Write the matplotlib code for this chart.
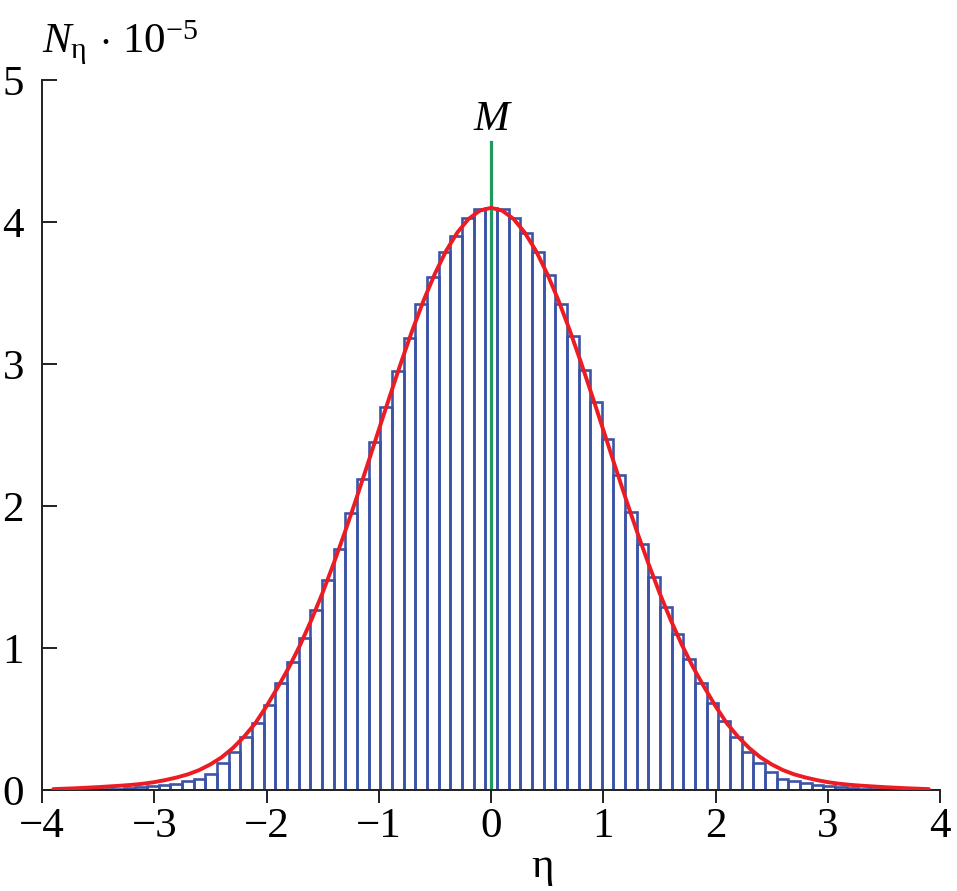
import numpy as np
import matplotlib
matplotlib.use("Agg")
import matplotlib.pyplot as plt

plt.rcParams['font.family'] = ['Liberation Serif', 'DejaVu Serif']
plt.rcParams['mathtext.fontset'] = 'custom'
plt.rcParams['mathtext.rm'] = 'Liberation Serif'
plt.rcParams['mathtext.it'] = 'Liberation Serif:italic'
plt.rcParams['mathtext.bf'] = 'Liberation Serif:bold'

# histogram: 77 bins over [-4, 4], heights in units of 1e5
bin_edges = np.linspace(-4, 4, 78)
counts = [0.0, 0.0, 0.002, 0.003, 0.005, 0.007, 0.01, 0.013, 0.02, 0.028,
          0.035, 0.045, 0.06, 0.08, 0.115, 0.19, 0.265, 0.37, 0.47, 0.60,
          0.75, 0.90, 1.07, 1.27, 1.48, 1.70, 1.95, 2.19, 2.45, 2.70,
          2.95, 3.18, 3.42, 3.61, 3.79, 3.90, 4.03, 4.09, 4.10, 4.09,
          4.03, 3.92, 3.79, 3.63, 3.42, 3.20, 2.96, 2.73, 2.47, 2.22,
          1.96, 1.73, 1.50, 1.29, 1.10, 0.92, 0.75, 0.61, 0.485, 0.375,
          0.27, 0.19, 0.125, 0.08, 0.06, 0.05, 0.035, 0.03, 0.02, 0.015,
          0.01, 0.007, 0.005, 0.003, 0.002, 0.0, 0.0]

# fitted curve read at eta = -3.9 ... 3.9 (step 0.1)
curve_eta = np.round(np.arange(-39, 40) / 10, 1)
curve_right = [4.100, 4.080, 4.022, 3.926, 3.797, 3.636, 3.449, 3.240, 3.014, 2.778,
               2.536, 2.292, 2.052, 1.820, 1.599, 1.390, 1.198, 1.022, 0.864, 0.723,
               0.59, 0.47, 0.375, 0.295, 0.23, 0.18, 0.14, 0.11, 0.088, 0.07,
               0.055, 0.044, 0.036, 0.03, 0.025, 0.02, 0.016, 0.012, 0.009, 0.006]
curve_vals = curve_right[:0:-1] + curve_right

mode_x = 0.0
mode_top = 4.56

BLUE = '#3b54a6'
RED = '#ec1c24'
GREEN = '#1e9a5c'
FS = 31

fig = plt.figure(figsize=(9.57, 8.91), dpi=100)
ax = fig.add_axes([0.0439, 0.1134, 0.9384, 0.7968])

centers = (bin_edges[:-1] + bin_edges[1:]) / 2
width = bin_edges[1] - bin_edges[0]
ax.bar(centers, counts, width=width, fill=False, edgecolor=BLUE, linewidth=1.9, zorder=1)
ax.plot([mode_x, mode_x], [0, mode_top], color=GREEN, lw=2.3, zorder=2)
ax.plot(curve_eta, curve_vals, color=RED, lw=2.8, zorder=3, solid_capstyle='round')

ax.set_xlim(-4, 4)
ax.set_ylim(0, 5)
ax.set_xticks(range(-4, 5))
ax.set_yticks(range(0, 6))
for s in ['top', 'right']:
    ax.spines[s].set_visible(False)
for s in ['left', 'bottom']:
    ax.spines[s].set_linewidth(1.4)
    ax.spines[s].set_color('#231f20')
    ax.spines[s].set_zorder(2.5)
ax.tick_params(axis='x', direction='out', length=9.5, width=1.4, pad=3,
               labelsize=FS, color='#231f20')
ax.tick_params(axis='y', direction='in', length=11, width=1.4, pad=13,
               labelsize=FS, color='#231f20')

ax.text(-4, 5.19, r'$N_{\mathrm{η}}\,\cdot\,10^{-5}$', fontsize=FS,
        ha='left', va='baseline', clip_on=False)
ax.text(mode_x, 4.65, 'M', fontsize=FS, style='italic',
        ha='center', va='baseline', clip_on=False)
ax.text(0.46, -0.54, 'η', fontsize=FS, ha='center', va='center', clip_on=False)

fig.savefig('out.png', dpi=100)
